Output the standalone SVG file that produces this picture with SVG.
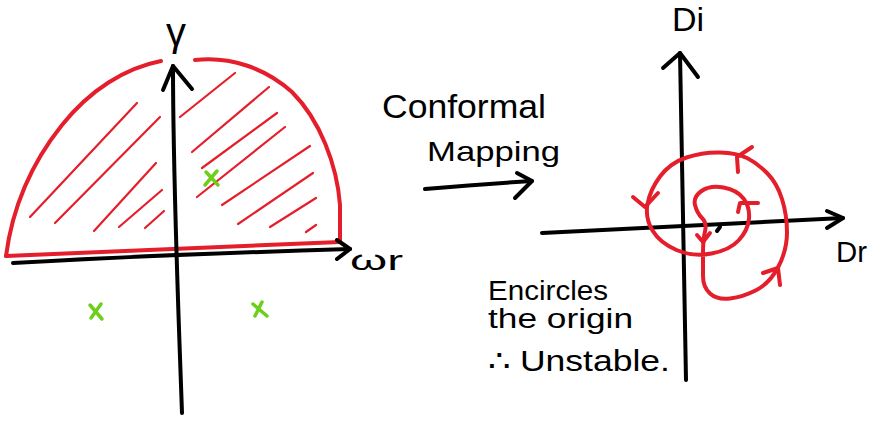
<svg xmlns="http://www.w3.org/2000/svg" width="869" height="421" viewBox="0 0 869 421">
<style>
.ax{fill:none;stroke:#000;stroke-width:4;stroke-linecap:round;stroke-linejoin:round}
.rd{fill:none;stroke:#e41e2b;stroke-width:4;stroke-linecap:round;stroke-linejoin:round}
.ht{fill:none;stroke:#e41e2b;stroke-width:2.2;stroke-linecap:round}
.gx{fill:none;stroke:#6ccf1a;stroke-width:3.5;stroke-linecap:round}
.t{font-family:"Liberation Sans",Arial,sans-serif;fill:#000}
</style>
<rect width="869" height="421" fill="#fff"/>
<g id="left-plot">
  <path class="rd" d="M6,256 L340,242 L340,205 C337,165 320,120 292,92 C265,68 230,56 195,60"/>
  <path class="rd" d="M161,61 C125,68 90,90 62,125 C30,165 12,210 6,256"/>
  <g id="hatch-left">
    <path class="ht" d="M30,217 L137,103 M55,223 L160,117 M94,231 L156,163 M119,227 L162,190 M145,228 L164,211"/>
  </g>
  <g id="hatch-right">
    <path class="ht" d="M180,117 L235,73 M192,152 L269,87 M202,168 L277,113 M197,197 L285,127 M222,205 L310,146 M238,224 L313,173 M270,227 L316,198 M306,232 L316,225"/>
  </g>
  <path class="ax" d="M13,263 C120,257 250,252 350,249"/>
  <path class="ax" d="M337,240 L350,249 L337,259"/>
  <path class="ax" d="M182,413 C178,300 173,180 173,66"/>
  <path class="ax" d="M163,90 L173,66 L192,89"/>
  <g id="poles">
    <path class="gx" d="M206,172 L218,185 M217,171 L205,185"/>
    <path class="gx" d="M90,305 L102,319 M101,304 L91,318"/>
    <path class="gx" d="M253,304 L267,316 M262,302 L255,316"/>
  </g>
  <text class="t" x="176" y="46" font-size="40" text-anchor="middle">γ</text>
  <text class="t" x="350" y="270" font-size="28" textLength="53" lengthAdjust="spacingAndGlyphs">ωr</text>
</g>
<g id="mapping">
  <text class="t" x="382" y="118" font-size="34" textLength="164" lengthAdjust="spacingAndGlyphs">Conformal</text>
  <text class="t" x="427" y="161" font-size="28" textLength="133" lengthAdjust="spacingAndGlyphs">Mapping</text>
  <path class="ax" d="M425,189 C460,186 500,183 532,181"/>
  <path class="ax" d="M517,173 L532,181 L515,198"/>
</g>
<g id="note">
  <text class="t" x="488" y="300" font-size="27" textLength="120" lengthAdjust="spacingAndGlyphs">Encircles</text>
  <text class="t" x="488" y="328" font-size="27" textLength="145" lengthAdjust="spacingAndGlyphs">the origin</text>
  <text class="t" x="488" y="371" font-size="29" textLength="182" lengthAdjust="spacingAndGlyphs">∴ Unstable.</text>
</g>
<g id="right-plot">
  <path class="ax" d="M686,380 C684,270 681,160 680,53"/>
  <path class="ax" d="M663,68 L680,53 L698,77"/>
  <path class="ax" d="M542,233 C650,228 750,222 843,218"/>
  <path class="ax" d="M827,211 L843,218 L827,228"/>
  <path class="rd" d="M702,218 Q707,223 705,231.5 Q703,240 703,252.5 Q703,265 703,276 Q703,287 710,293.5 Q717,300 730,298.5 Q743,297 756.5,290 Q770,283 778.5,266.5 Q787,250 787,232.5 Q787,215 782,199 Q777,183 767,173 Q757,163 747,158 Q737,153 720,152.5 Q703,152 686.5,157.5 Q670,163 660,176.5 Q650,190 647.5,204 Q645,218 652.5,230.5 Q660,243 676.5,250 Q693,257 711.5,253.5 Q730,250 739,240 Q748,230 749,218.5 Q750,207 743.5,198.5 Q737,190 723.5,187.5 Q710,185 701.5,191 Q693,197 695,205 Q697,213 702,218 Z"/>
  <path class="rd" d="M738,172 L737,157 L752,147"/>
  <path class="rd" d="M633,197 L645,207 L658,193"/>
  <path class="rd" d="M763,273 L778,268 L780,285"/>
  <path class="rd" d="M697,235 L703,242 L710,233"/>
  <path class="rd" d="M738,212 L740,203 L758,203"/>
  <path class="ax" d="M720,227 L717,231" stroke-width="2.5"/>
  <text class="t" x="672" y="31" font-size="34">Di</text>
  <text class="t" x="836" y="262" font-size="29" textLength="31" lengthAdjust="spacingAndGlyphs">Dr</text>
</g>
</svg>
